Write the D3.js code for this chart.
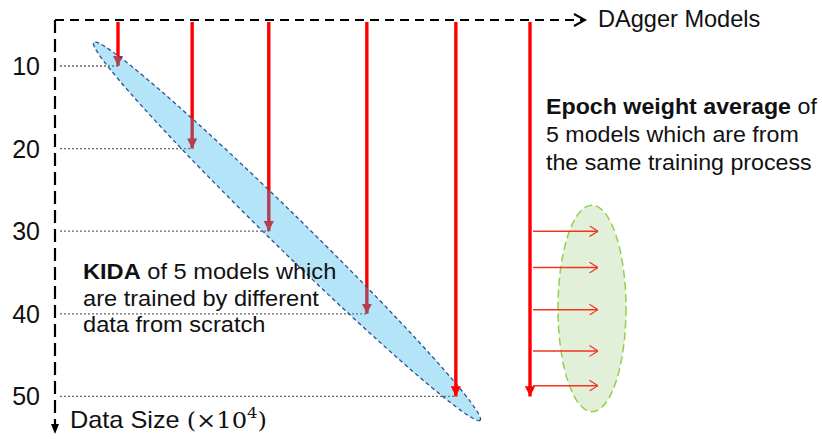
<!DOCTYPE html>
<html>
<head>
<meta charset="utf-8">
<script src="https://cdn.jsdelivr.net/npm/d3@7"></script>
<style>
  html, body { margin: 0; padding: 0; background: #fff; }
  svg { display: block; }
  text { font-family: "Liberation Sans", Arial, sans-serif; fill: #111; }
</style>
</head>
<body>
<svg id="chart" width="822" height="439"></svg>
<script>
// ---- data ----
const dataSizes = [10, 20, 30, 40, 50];              // x10^4, tick labels on the vertical axis
const tickLabels = ["10", "20", "30", "40", "50"];
const kidaModels = [1, 1.9, 2.83, 4.02, 5.1];         // positions along the "DAgger Models" axis
const epochModel = 6;                                 // the long arrow of the epoch-average group
const epochEnd = 50;                                  // data size reached by the long arrow
const epochCheckpoints = [30, 34.4, 39.5, 44.5, 48.7]; // data sizes of the 5 averaged checkpoints
const kidaLines = [
  [{t: "KIDA", b: true}, {t: " of 5 models which", b: false}],
  [{t: "are trained by different", b: false}],
  [{t: "data from scratch", b: false}]
];
const epochLines = [
  [{t: "Epoch weight average", b: true}, {t: " of", b: false}],
  [{t: "5 models which are from", b: false}],
  [{t: "the same training process", b: false}]
];

// ---- scales ----
const svg = d3.select("#chart");
const y = d3.scaleLinear().domain([0, 50]).range([-16.6, 396.4]);
const x = d3.scaleLinear().domain([1, 6]).range([118, 530]);
const axisX = 55, axisY = 20;

const defs = svg.append("defs");
defs.append("marker").attr("id", "redHead").attr("viewBox", "0 0 10 10")
  .attr("refX", 10).attr("refY", 5).attr("markerWidth", 3).attr("markerHeight", 3)
  .attr("markerUnits", "strokeWidth").attr("orient", "auto")
  .append("path").attr("d", "M0,0 L10,5 L0,10 Z").attr("fill", "#ff0000");
defs.append("marker").attr("id", "openHead").attr("viewBox", "0 0 10 12")
  .attr("refX", 9.5).attr("refY", 6).attr("markerWidth", 6).attr("markerHeight", 7.5)
  .attr("markerUnits", "strokeWidth").attr("orient", "auto")
  .append("path").attr("d", "M0,0 L9.5,6 L0,12").attr("fill", "none")
  .attr("stroke", "#f0361e").attr("stroke-width", 1.3);

// ---- axes ----
// top (DAgger Models) axis
svg.append("line").attr("x1", axisX).attr("x2", 584).attr("y1", axisY).attr("y2", axisY)
  .attr("stroke", "#000").attr("stroke-width", 2).attr("stroke-dasharray", "9,6");
svg.append("path").attr("d", `M574,${axisY - 6} L585,${axisY} L574,${axisY + 6}`)
  .attr("fill", "none").attr("stroke", "#000").attr("stroke-width", 2);
svg.append("g").attr("transform", "translate(598,27) scale(1.025,1)")
  .append("text").attr("font-size", 23).text("DAgger Models");

// left (Data Size) axis
svg.append("line").attr("x1", axisX).attr("x2", axisX).attr("y1", axisY).attr("y2", 424)
  .attr("stroke", "#000").attr("stroke-width", 2.2).attr("stroke-dasharray", "13,6");
svg.append("path").attr("d", `M${axisX - 4},424 L${axisX + 4},424 L${axisX},434 Z`).attr("fill", "#000");

svg.selectAll("text.tick").data(dataSizes).join("text").attr("class", "tick")
  .attr("x", 40).attr("y", d => y(d)).attr("dy", "0.36em").attr("text-anchor", "end")
  .attr("font-size", 25).text((d, i) => tickLabels[i]);

// dotted guides
svg.selectAll("line.guide").data(dataSizes).join("line").attr("class", "guide")
  .attr("x1", 60).attr("x2", (d, i) => x(kidaModels[i])).attr("y1", d => y(d)).attr("y2", d => y(d))
  .attr("stroke", "#666").attr("stroke-width", 1.3).attr("stroke-dasharray", "2,2");

// ---- KIDA arrows + ellipse ----
const tips = dataSizes.map((d, i) => [x(kidaModels[i]), y(d)]);
const arrow = (sel) => sel.attr("stroke", "#ff0000").attr("stroke-width", 3.4)
  .attr("marker-end", "url(#redHead)");
svg.selectAll("line.kida").data(tips.slice(0, 4)).join("line").attr("class", "kida")
  .attr("x1", d => d[0]).attr("x2", d => d[0]).attr("y1", axisY + 2).attr("y2", d => d[1]).call(arrow);

const a = tips[0], b = tips[tips.length - 1];
const cx = (a[0] + b[0]) / 2, cy = (a[1] + b[1]) / 2;
const ang = Math.atan2(b[1] - a[1], b[0] - a[0]) * 180 / Math.PI;
const half = Math.hypot(b[0] - a[0], b[1] - a[1]) / 2;
svg.append("ellipse").attr("cx", 0).attr("cy", 0).attr("rx", half + 34).attr("ry", 17)
  .attr("transform", `translate(${cx},${cy}) rotate(${ang})`)
  .attr("fill", "rgb(40,178,235)").attr("fill-opacity", 0.35)
  .attr("stroke", "#2f4f8f").attr("stroke-width", 1.3).attr("stroke-dasharray", "4,3");

svg.selectAll("line.kida2").data(tips.slice(4)).join("line").attr("class", "kida2")
  .attr("x1", d => d[0]).attr("x2", d => d[0]).attr("y1", axisY + 2).attr("y2", d => d[1]).call(arrow);

// ---- epoch weight average ----
svg.append("line").attr("x1", x(epochModel)).attr("x2", x(epochModel))
  .attr("y1", axisY + 2).attr("y2", y(epochEnd)).call(arrow);

const ey = epochCheckpoints.map(y);
const gcy = (d3.min(ey) + d3.max(ey)) / 2;
const gry = (d3.max(ey) - d3.min(ey)) / 2 + 26;
svg.append("ellipse").attr("cx", x(epochModel) + 62).attr("cy", gcy).attr("rx", 34).attr("ry", gry)
  .attr("fill", "#e2f0d9").attr("stroke", "#92d050").attr("stroke-width", 1.5)
  .attr("stroke-dasharray", "8,4");
svg.selectAll("line.ckpt").data(epochCheckpoints).join("line").attr("class", "ckpt")
  .attr("x1", x(epochModel) + 3).attr("x2", x(epochModel) + 68)
  .attr("y1", d => y(d)).attr("y2", d => y(d))
  .attr("stroke", "#f0361e").attr("stroke-width", 1.5).attr("marker-end", "url(#openHead)");

// ---- annotations ----
function block(lines, x0, y0, lh, fs, sx) {
  const g = svg.append("g").attr("transform", `translate(${x0},${y0}) scale(${sx},1)`);
  const t = g.append("text").attr("font-size", fs);
  lines.forEach((ln, i) => {
    ln.forEach((seg, j) => {
      const ts = t.append("tspan").text(seg.t).attr("font-weight", seg.b ? "bold" : "normal");
      if (j === 0) ts.attr("x", 0).attr("y", i * lh);
    });
  });
  return t;
}
block(kidaLines, 83, 279, 26.7, 22, 1.074);
block(epochLines, 546, 114, 28, 22, 1.055);

const dg = svg.append("g").attr("transform", "translate(70,428) scale(1.1,1)");
const ds = dg.append("text").attr("font-size", 23);
ds.append("tspan").text("Data Size ");
ds.append("tspan").attr("font-family", "DejaVu Serif").attr("font-size", 22).text("(×10");
ds.append("tspan").attr("font-family", "DejaVu Serif").attr("font-size", 15).attr("dy", -10).text("4");
ds.append("tspan").attr("font-family", "DejaVu Serif").attr("font-size", 22).attr("dy", 10).text(")");
</script>
</body>
</html>
